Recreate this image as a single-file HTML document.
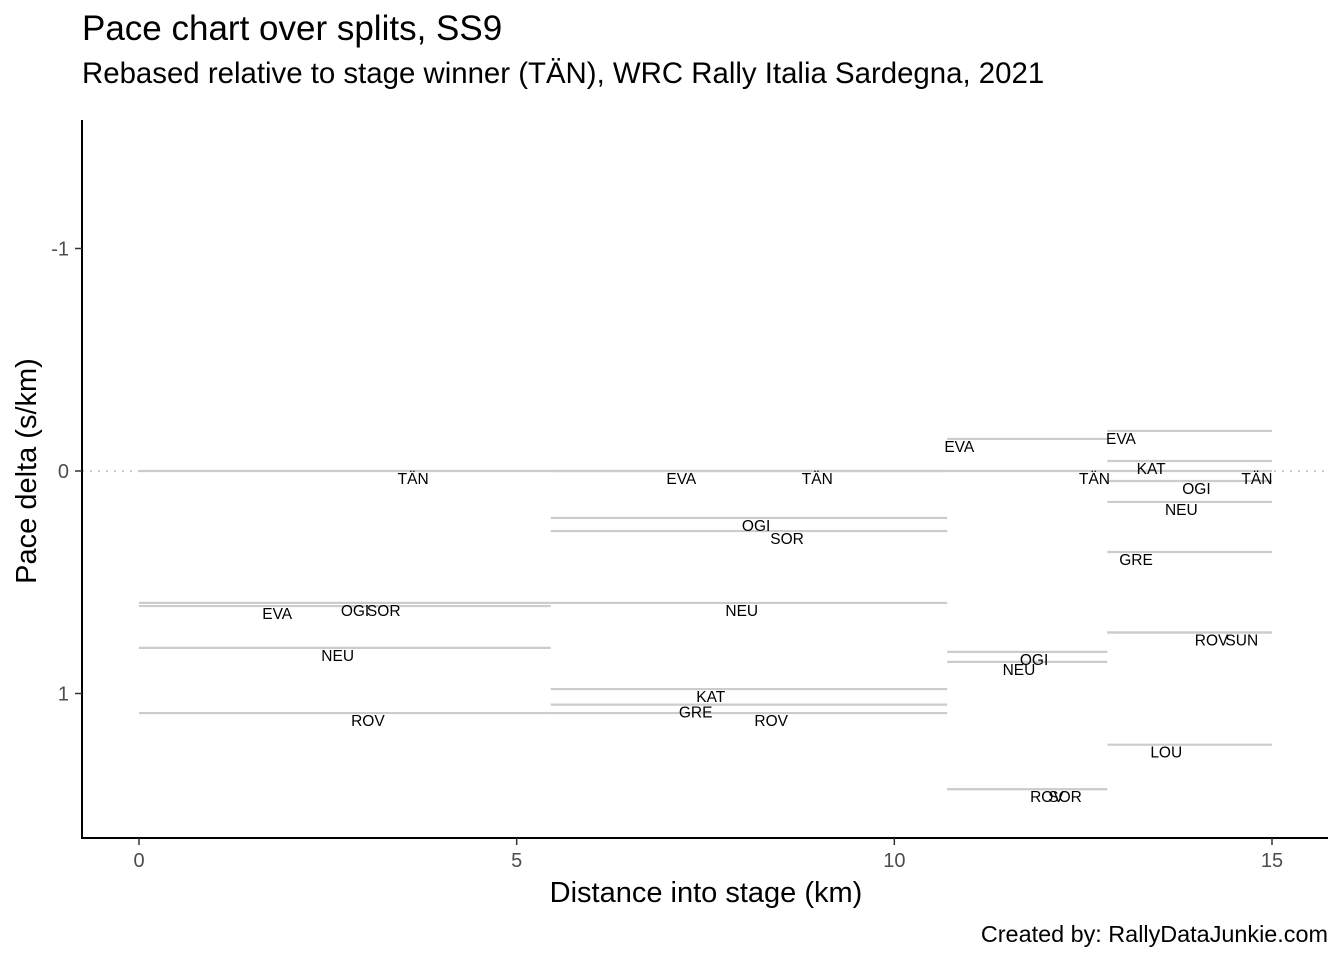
<!DOCTYPE html>
<html><head><meta charset="utf-8">
<style>
html,body{margin:0;padding:0;background:#fff;}
svg{display:block;font-family:"Liberation Sans",Arial,sans-serif;}
</style></head>
<body>
<svg id="chart" width="1344" height="960" viewBox="0 0 1344 960">
  <text x="82" y="40" font-size="35" fill="#000">Pace chart over splits, SS9</text>
  <text x="82" y="83" font-size="29.4" fill="#000">Rebased relative to stage winner (TÄN), WRC Rally Italia Sardegna, 2021</text>
  <g id="plot"></g>
  <text x="706" y="902" font-size="29" text-anchor="middle" fill="#000">Distance into stage (km)</text>
  <text transform="translate(36,471) rotate(-90)" font-size="29" text-anchor="middle" fill="#000">Pace delta (s/km)</text>
  <text x="1328" y="942" font-size="23.4" text-anchor="end" fill="#000">Created by: RallyDataJunkie.com</text>
</svg>
<script>
const xTicks = [0, 5, 10, 15];
const yTicks = [-1, 0, 1];
const segStart = [0, 0, 0, 0, 0, 0, 5.45, 5.45, 5.45, 5.45, 5.45, 5.45, 5.45, 5.45, 10.7, 10.7, 10.7, 10.7, 10.7, 10.7, 12.82, 12.82, 12.82, 12.82, 12.82, 12.82, 12.82, 12.82, 12.82];
const segEnd = [5.45, 5.45, 5.45, 5.45, 5.45, 5.45, 10.7, 10.7, 10.7, 10.7, 10.7, 10.7, 10.7, 10.7, 12.82, 12.82, 12.82, 12.82, 12.82, 12.82, 15, 15, 15, 15, 15, 15, 15, 15, 15];
const drivers = ["TÄN","EVA","OGI","SOR","NEU","ROV","TÄN","EVA","OGI","SOR","NEU","KAT","GRE","ROV","EVA","TÄN","OGI","NEU","ROV","SOR","EVA","KAT","OGI","NEU","GRE","ROV","SUN","LOU","TÄN"];
const deltas = [0, 0.607, 0.593, 0.593, 0.795, 1.088, 0, 0, 0.211, 0.27, 0.593, 0.98, 1.05, 1.088, -0.144, 0, 0.813, 0.858, 1.43, 1.43, -0.18, -0.045, 0.045, 0.139, 0.364, 0.726, 0.726, 1.23, 0];
const labelKm = [3.63, 1.83, 2.86, 3.24, 2.63, 3.03, 8.98, 7.18, 8.17, 8.58, 7.98, 7.57, 7.37, 8.37, 10.86, 12.65, 11.85, 11.65, 12.02, 12.26, 13.0, 13.4, 14.0, 13.8, 13.2, 14.2, 14.6, 13.6, 14.8];

const X0 = 139, XK = 75.5333;
const Y0 = 471, YK = 222.5;
const xs = v => X0 + v * XK;
const ys = v => Y0 + v * YK;
const NS = "http://www.w3.org/2000/svg";
const plot = document.getElementById('plot');
function mk(tag, attrs, parent) {
  const e = document.createElementNS(NS, tag);
  for (const k in attrs) e.setAttribute(k, attrs[k]);
  (parent || plot).appendChild(e);
  return e;
}
const zl = mk('line', {x1: 82, x2: 1328, y1: ys(0), y2: ys(0), stroke: '#cccccc', 'stroke-width': 2, 'stroke-dasharray': '2,6'});


for (let i = 0; i < drivers.length; i++) {
  const l = mk('line', {x1: xs(segStart[i]), x2: xs(segEnd[i]), y1: ys(deltas[i]), y2: ys(deltas[i]), stroke: '#cccccc', 'stroke-width': 2.2});
  
  
}
for (let i = 0; i < drivers.length; i++) {
  const t = mk('text', {x: xs(labelKm[i]), y: ys(deltas[i]) + 13, 'font-size': 15.5, 'text-anchor': 'middle', fill: '#000'});
  t.textContent = drivers[i];
  
  
}
const ya = mk('line', {x1: 82, x2: 82, y1: 120, y2: 839, stroke: '#000', 'stroke-width': 2});


const xa = mk('line', {x1: 81, x2: 1328, y1: 838, y2: 838, stroke: '#000', 'stroke-width': 2});


xTicks.forEach(v => {
  const tk = mk('line', {x1: xs(v), x2: xs(v), y1: 838, y2: 845, stroke: '#333', 'stroke-width': 1.5});
  
  
  const t = mk('text', {x: xs(v), y: 867, 'font-size': 20, 'text-anchor': 'middle', fill: '#4d4d4d'});
  t.textContent = v;
  
  
});
yTicks.forEach(v => {
  const tk = mk('line', {x1: 75, x2: 82, y1: ys(v), y2: ys(v), stroke: '#333', 'stroke-width': 1.5});
  
  
  const t = mk('text', {x: 69, y: ys(v) + 7, 'font-size': 20, 'text-anchor': 'end', fill: '#4d4d4d'});
  t.textContent = v;
  
  
});
</script>
</body></html>
